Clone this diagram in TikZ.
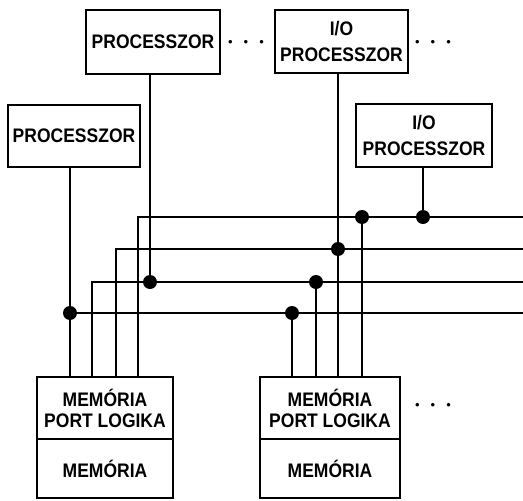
\documentclass[tikz,border=0pt]{standalone}
\usepackage{fontspec}
\setmainfont{Liberation Sans}
\usetikzlibrary{positioning}
\tikzset{box/.style={draw,line width=2.4pt,inner sep=0pt,align=center,font=\bfseries\fontsize{17.5}{21}\selectfont},
wire/.style={line width=1.3pt},
jdot/.style={circle,fill,inner sep=0pt,minimum size=14pt},
more/.style={inner sep=0pt,font=\fontsize{13}{13}\selectfont}}
\newcommand{\threedots}{\textbullet\hspace{11pt}\textbullet\hspace{11pt}\textbullet}
\begin{document}
\begin{tikzpicture}[x=1pt,y=-1pt]
\useasboundingbox(0,0)rectangle(523,501);
\node[box,minimum width=134pt,minimum height=64pt](p1)at(153,42){\scalebox{1}[1.12]{PROCESSZOR}};
\node[box,minimum width=133pt,minimum height=63pt](io1)at(341.5,41.5){\scalebox{1}[1.12]{I/O}\\[5pt]\scalebox{1}[1.12]{PROCESSZOR}};
\node[box,minimum width=132pt,minimum height=62pt](p2)at(74,136){\scalebox{1}[1.12]{PROCESSZOR}};
\node[box,minimum width=136pt,minimum height=63pt](io2)at(424,135.5){\scalebox{1}[1.12]{I/O}\\[5pt]\scalebox{1}[1.12]{PROCESSZOR}};
\node[box,minimum width=136pt,minimum height=62pt](m1p)at(105,408){\scalebox{1}[1.12]{MEMÓRIA}\\\scalebox{1}[1.12]{PORT LOGIKA}};
\node[box,minimum width=136pt,minimum height=59pt](m1)at(105,468.5){\scalebox{1}[1.12]{MEMÓRIA}};
\node[box,minimum width=140pt,minimum height=62pt](m2p)at(330,408){\scalebox{1}[1.12]{MEMÓRIA}\\\scalebox{1}[1.12]{PORT LOGIKA}};
\node[box,minimum width=140pt,minimum height=59pt](m2)at(330,468.5){\scalebox{1}[1.12]{MEMÓRIA}};
\node[more](more1)at(246,43){\threedots};
\node[more](more2)at(433,43){\threedots};
\node[more](more3)at(433,406){\threedots};
%buses
\coordinate(b1s)at(138,217);\coordinate(b1e)at(523,217);
\coordinate(b2s)at(116,249);\coordinate(b2e)at(523,249);
\coordinate(b3s)at(92,282);\coordinate(b3e)at(523,282);
\coordinate(b4e)at(523,313);
\node[jdot](d1)at(70,313){};
\node[jdot](d2)at(150,282){};
\node[jdot](d3)at(338,249){};
\node[jdot](d4)at(423,217){};
\node[jdot](d5)at(292,313){};
\node[jdot](d6)at(316,282){};
\node[jdot](d7)at(362,217){};
\draw[wire](b1s|-m1p.north)--(b1s)--(b1e);
\draw[wire](b2s|-m1p.north)--(b2s)--(b2e);
\draw[wire](b3s|-m1p.north)--(b3s)--(b3e);
\draw[wire](d1)--(b4e);
\draw[wire](p2.south-|d1)--(m1p.north-|d1);
\draw[wire](p1.south-|d2)--(d2);
\draw[wire](io1.south-|d3)--(m2p.north-|d3);
\draw[wire](io2.south-|d4)--(d4);
\draw[wire](d5)--(d5|-m2p.north);
\draw[wire](d6)--(d6|-m2p.north);
\draw[wire](d7)--(d7|-m2p.north);
\end{tikzpicture}
\end{document}
